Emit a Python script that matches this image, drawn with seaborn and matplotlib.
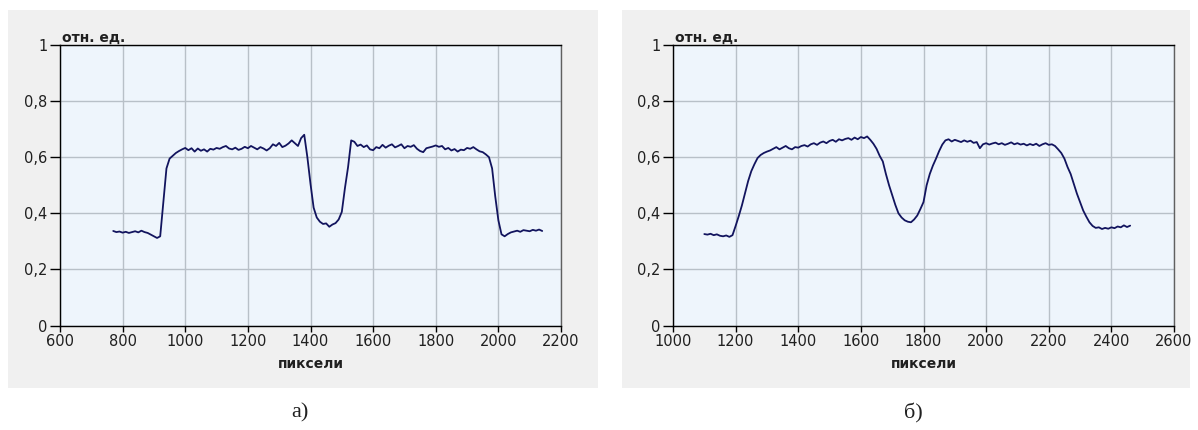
import numpy as np
import pandas as pd
import matplotlib
matplotlib.use("Agg")
import matplotlib.pyplot as plt
import seaborn as sns
from matplotlib.patches import Rectangle
from matplotlib.ticker import FixedLocator, FixedFormatter

# ---------- data ----------
x_a = [770, 780, 790, 800, 810, 820, 830, 840, 850, 860, 870, 880, 890, 900, 910, 920,
       930, 940, 950, 960, 970, 980, 990, 1000, 1010, 1020, 1030, 1040, 1050, 1060,
       1070, 1080, 1090, 1100, 1110, 1120, 1130, 1140, 1150, 1160, 1170, 1180, 1190,
       1200, 1210, 1220, 1230, 1240, 1250, 1260, 1270, 1280, 1290, 1300, 1310, 1320,
       1330, 1340, 1350, 1360, 1370, 1380, 1390, 1400, 1410, 1420, 1430, 1440, 1450,
       1460, 1470, 1480, 1490, 1500, 1510, 1520, 1530, 1540, 1550, 1560, 1570, 1580,
       1590, 1600, 1610, 1620, 1630, 1640, 1650, 1660, 1670, 1680, 1690, 1700, 1710,
       1720, 1730, 1740, 1750, 1760, 1770, 1780, 1790, 1800, 1810, 1820, 1830, 1840,
       1850, 1860, 1870, 1880, 1890, 1900, 1910, 1920, 1930, 1940, 1950, 1960, 1970,
       1980, 1990, 2000, 2010, 2020, 2030, 2040, 2050, 2060, 2070, 2080, 2090, 2100,
       2110, 2120, 2130, 2140]
y_a = [0.337, 0.333, 0.335, 0.331, 0.334, 0.330, 0.333, 0.336, 0.332, 0.338, 0.333,
       0.330, 0.324, 0.318, 0.312, 0.318, 0.440, 0.560, 0.595, 0.605, 0.615, 0.622,
       0.628, 0.633, 0.625, 0.632, 0.620, 0.631, 0.623, 0.628, 0.620, 0.630, 0.627,
       0.633, 0.630, 0.636, 0.640, 0.631, 0.628, 0.634, 0.626, 0.630, 0.637, 0.632,
       0.640, 0.634, 0.628, 0.636, 0.631, 0.624, 0.632, 0.646, 0.640, 0.651, 0.636,
       0.641, 0.649, 0.660, 0.650, 0.640, 0.668, 0.680, 0.600, 0.505, 0.420, 0.385,
       0.370, 0.362, 0.364, 0.352, 0.360, 0.365, 0.378, 0.405, 0.490, 0.565, 0.660,
       0.655, 0.640, 0.645, 0.636, 0.642, 0.628, 0.625, 0.636, 0.632, 0.644, 0.634,
       0.641, 0.646, 0.635, 0.640, 0.646, 0.632, 0.640, 0.637, 0.643, 0.630, 0.622,
       0.618, 0.632, 0.635, 0.638, 0.642, 0.637, 0.640, 0.628, 0.633, 0.624, 0.629,
       0.620, 0.627, 0.625, 0.633, 0.630, 0.636, 0.628, 0.621, 0.618, 0.610, 0.600,
       0.560, 0.460, 0.375, 0.325, 0.318, 0.326, 0.332, 0.335, 0.338, 0.334, 0.340,
       0.338, 0.336, 0.341, 0.338, 0.342, 0.337]

x_b = [1100, 1110, 1120, 1130, 1140, 1150, 1160, 1170, 1180, 1190, 1200, 1210, 1220,
       1230, 1240, 1250, 1260, 1270, 1280, 1290, 1300, 1310, 1320, 1330, 1340, 1350,
       1360, 1370, 1380, 1390, 1400, 1410, 1420, 1430, 1440, 1450, 1460, 1470, 1480,
       1490, 1500, 1510, 1520, 1530, 1540, 1550, 1560, 1570, 1580, 1590, 1600, 1610,
       1620, 1630, 1640, 1650, 1660, 1670, 1680, 1690, 1700, 1710, 1720, 1730, 1740,
       1750, 1760, 1770, 1780, 1790, 1800, 1810, 1820, 1830, 1840, 1850, 1860, 1870,
       1880, 1890, 1900, 1910, 1920, 1930, 1940, 1950, 1960, 1970, 1980, 1990, 2000,
       2010, 2020, 2030, 2040, 2050, 2060, 2070, 2080, 2090, 2100, 2110, 2120, 2130,
       2140, 2150, 2160, 2170, 2180, 2190, 2200, 2210, 2220, 2230, 2240, 2250, 2260,
       2270, 2280, 2290, 2300, 2310, 2320, 2330, 2340, 2350, 2360, 2370, 2380, 2390,
       2400, 2410, 2420, 2430, 2440, 2450, 2460]
y_b = [0.326, 0.324, 0.327, 0.322, 0.325, 0.320, 0.318, 0.321, 0.316, 0.322, 0.355,
       0.390, 0.428, 0.472, 0.515, 0.550, 0.575, 0.597, 0.608, 0.615, 0.620, 0.624,
       0.630, 0.636, 0.628, 0.634, 0.640, 0.632, 0.628, 0.636, 0.634, 0.640, 0.643,
       0.638, 0.646, 0.650, 0.644, 0.652, 0.656, 0.650, 0.658, 0.662, 0.655, 0.664,
       0.660, 0.665, 0.668, 0.662, 0.670, 0.664, 0.672, 0.668, 0.674, 0.662, 0.648,
       0.630, 0.605, 0.585, 0.540, 0.500, 0.465, 0.430, 0.400, 0.385, 0.375, 0.370,
       0.368, 0.378, 0.392, 0.415, 0.440, 0.500, 0.540, 0.570, 0.595, 0.622, 0.645,
       0.660, 0.664, 0.656, 0.662, 0.658, 0.654, 0.660, 0.655, 0.659, 0.651, 0.654,
       0.632, 0.646, 0.650, 0.645, 0.649, 0.652, 0.646, 0.650, 0.644, 0.648, 0.653,
       0.646, 0.650, 0.645, 0.648, 0.642, 0.647, 0.643, 0.648, 0.640, 0.646, 0.650,
       0.644, 0.646, 0.640, 0.628, 0.615, 0.595, 0.565, 0.540, 0.505, 0.470, 0.440,
       0.410, 0.388, 0.368, 0.355, 0.348, 0.350, 0.344, 0.348, 0.345, 0.350, 0.347,
       0.353, 0.350, 0.357, 0.351, 0.356]

y_ticks = [0, 0.2, 0.4, 0.6, 0.8, 1]
y_tick_labels = ["0", "0,2", "0,4", "0,6", "0,8", "1"]
y_minor = [0.1, 0.3, 0.5, 0.7, 0.9]

x_ticks_a = [600, 800, 1000, 1200, 1400, 1600, 1800, 2000, 2200]
x_minor_a = [700, 900, 1100, 1300, 1500, 1700, 1900, 2100]
x_ticks_b = [1000, 1200, 1400, 1600, 1800, 2000, 2200, 2400, 2600]
x_minor_b = [1100, 1300, 1500, 1700, 1900, 2100, 2300, 2500]

y_title = "отн. ед."
x_title = "пиксели"
captions = ["а)", "б)"]

# ---------- figure ----------
sns.set_style("white", {"axes.facecolor": "#EEF5FC"})
plt.rcParams['font.family'] = ['DejaVu Sans']

fig = plt.figure(figsize=(11.98, 4.30), dpi=100)

# grey panels behind each chart
for x0, w in [(8, 590), (622, 568)]:
    fig.patches.append(Rectangle((x0 / 1198, 42 / 430), w / 1198, 378 / 430,
                                 transform=fig.transFigure, facecolor="#F0F0F0",
                                 edgecolor="none", zorder=-10))

panels = [
    (x_a, y_a, x_ticks_a, x_minor_a, 60),
    (x_b, y_b, x_ticks_b, x_minor_b, 673),
]

line_color = "#12145E"

for i, (xs, ys, xt, xm, left_px) in enumerate(panels):
    ax = fig.add_axes([left_px / 1198, 104.5 / 430, 501 / 1198, 280.5 / 430])
    ax.set_zorder(1)
    df = pd.DataFrame({"x": xs, "y": ys})
    sns.lineplot(data=df, x="x", y="y", ax=ax, color=line_color, linewidth=1.3)

    ax.set_xlim(xt[0], xt[-1])
    ax.set_ylim(0, 1)
    ax.xaxis.set_major_locator(FixedLocator(xt))
    ax.xaxis.set_minor_locator(FixedLocator(xm))
    ax.set_xticklabels([str(t) for t in xt])
    ax.yaxis.set_major_locator(FixedLocator(y_ticks))
    ax.yaxis.set_major_formatter(FixedFormatter(y_tick_labels))
    ax.yaxis.set_minor_locator(FixedLocator(y_minor))

    ax.grid(True, which="major", color="#B8C0C8", linewidth=1.0)
    ax.set_axisbelow(True)

    ax.tick_params(axis="both", which="both", direction="out", color="black",
                   labelsize=10.5, labelcolor="#202020", pad=2)
    ax.tick_params(axis="y", which="major", length=7, width=1)
    ax.tick_params(axis="y", which="minor", length=5, width=1)
    ax.tick_params(axis="x", which="both", length=4, width=1)
    ax.tick_params(left=True, bottom=True)

    for side in ["left", "bottom", "top"]:
        ax.spines[side].set_color("black")
        ax.spines[side].set_linewidth(1.0)
    ax.spines["right"].set_color("#606060")
    ax.spines["right"].set_linewidth(1.0)

    ax.set_xlabel("")
    ax.set_ylabel("")
    ax.text(0.004, 1.002, y_title, transform=ax.transAxes, ha="left", va="bottom",
            fontsize=10, fontweight="bold", color="#202020")
    ax.text(0.5, -0.112, x_title, transform=ax.transAxes, ha="center", va="top",
            fontsize=10, fontweight="bold", color="#202020")

    cx = [300, 913][i]
    fig.text(cx / 1198, 1 - 413 / 430, captions[i], ha="center", va="center",
             fontsize=16, family=["Liberation Serif", "DejaVu Serif"], color="#202020")

fig.savefig("out.png", dpi=100)
